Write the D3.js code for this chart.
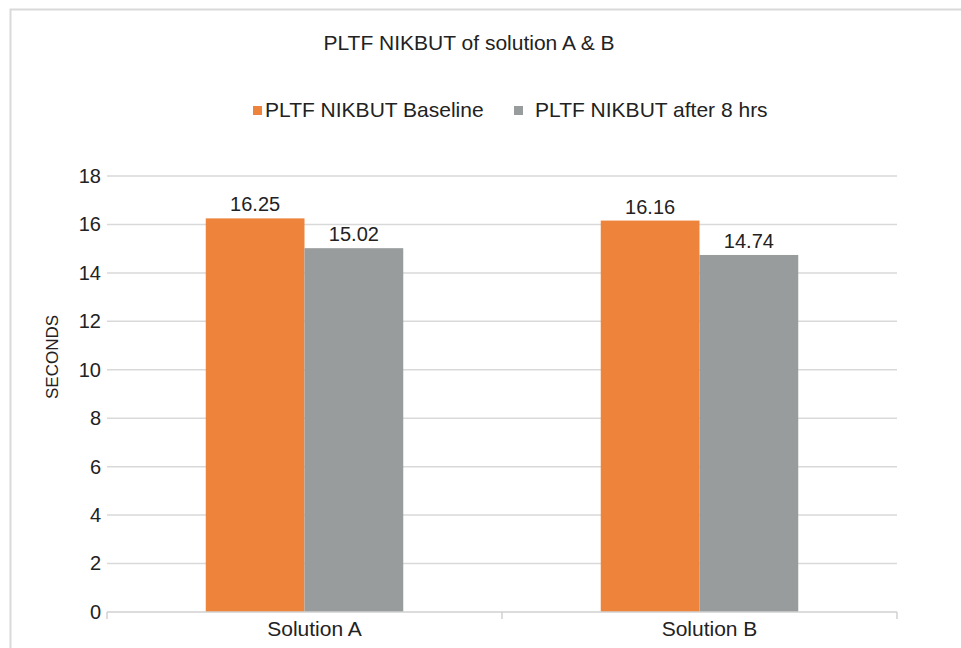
<!DOCTYPE html>
<html>
<head>
<meta charset="utf-8">
<script src="https://cdn.jsdelivr.net/npm/d3@7"></script>
<style>
  body { margin: 0; background: #fff; }
  svg text { font-family: "Liberation Sans", Arial, sans-serif; fill: #222; }
</style>
</head>
<body>
<svg id="chart" width="961" height="648"></svg>
<script>
// data
var categories = ["Solution A", "Solution B"];
var seriesNames = ["PLTF NIKBUT Baseline", "PLTF NIKBUT after 8 hrs"];
var baseline = [16.25, 16.16];
var after8 = [15.02, 14.74];
var yTicks = [0, 2, 4, 6, 8, 10, 12, 14, 16, 18];
var colors = ["#EE833B", "#999C9C"];

var svg = d3.select("#chart");

// outer chart frame
svg.append("rect")
  .attr("x", 10.5).attr("y", 9.5)
  .attr("width", 970).attr("height", 660)
  .attr("fill", "none")
  .attr("stroke", "#d9d9d9")
  .attr("stroke-width", 2);

var plotLeft = 107, plotRight = 897, plotTop = 176, plotBottom = 612;

var y = d3.scaleLinear().domain([0, 18]).range([plotBottom, plotTop]);

var x0 = d3.scaleBand()
  .domain(categories)
  .range([plotLeft, plotRight])
  .paddingInner(0.5)
  .paddingOuter(0.25);

var x1 = d3.scaleBand()
  .domain(seriesNames)
  .range([0, x0.bandwidth()]);

// gridlines
svg.append("g")
  .selectAll("line")
  .data(yTicks.filter(function(d) { return d > 0; }))
  .enter()
  .append("line")
  .attr("x1", plotLeft).attr("x2", plotRight)
  .attr("y1", function(d) { return y(d); })
  .attr("y2", function(d) { return y(d); })
  .attr("stroke", "#d9d9d9")
  .attr("stroke-width", 1.5);

// y axis labels
var yAxis = d3.axisLeft(y).tickValues(yTicks).tickSize(0).tickPadding(6);
var gy = svg.append("g")
  .attr("transform", "translate(" + plotLeft + ",0)")
  .call(yAxis);
gy.select(".domain").remove();
gy.selectAll("text")
  .attr("font-size", "20px")
  .attr("font-family", "Liberation Sans, Arial, sans-serif")
  .attr("fill", "#222");

// bars
var rows = categories.map(function(c, i) {
  return { cat: c, values: [baseline[i], after8[i]] };
});

var groups = svg.append("g")
  .selectAll("g")
  .data(rows)
  .enter()
  .append("g")
  .attr("transform", function(d) { return "translate(" + x0(d.cat) + ",0)"; });

groups.selectAll("rect")
  .data(function(d) { return d.values.map(function(v, j) { return { name: seriesNames[j], v: v, j: j }; }); })
  .enter()
  .append("rect")
  .attr("x", function(d) { return x1(d.name); })
  .attr("width", x1.bandwidth())
  .attr("y", function(d) { return y(d.v); })
  .attr("height", function(d) { return plotBottom - y(d.v); })
  .attr("fill", function(d) { return colors[d.j]; });

groups.selectAll("text.val")
  .data(function(d) { return d.values.map(function(v, j) { return { name: seriesNames[j], v: v }; }); })
  .enter()
  .append("text")
  .attr("class", "val")
  .attr("x", function(d) { return x1(d.name) + x1.bandwidth() / 2; })
  .attr("y", function(d) { return y(d.v) - 7; })
  .attr("text-anchor", "middle")
  .attr("font-size", "20px")
  .text(function(d) { return d.v.toFixed(2); });

// x axis
var xEdge = d3.scalePoint().domain([0, 1, 2]).range([plotLeft, plotRight]);
var gx = svg.append("g");
gx.append("line")
  .attr("x1", plotLeft).attr("x2", plotRight)
  .attr("y1", plotBottom).attr("y2", plotBottom)
  .attr("stroke", "#d0d0d0")
  .attr("stroke-width", 1.5);
gx.selectAll("line.tick")
  .data([0, 1, 2])
  .enter()
  .append("line")
  .attr("class", "tick")
  .attr("x1", function(d) { return xEdge(d); })
  .attr("x2", function(d) { return xEdge(d); })
  .attr("y1", plotBottom).attr("y2", plotBottom + 7)
  .attr("stroke", "#d0d0d0")
  .attr("stroke-width", 1.5);
gx.selectAll("text")
  .data(categories)
  .enter()
  .append("text")
  .attr("x", function(d) { return x0(d) + x0.bandwidth() / 2 + 10; })
  .attr("y", 636)
  .attr("text-anchor", "middle")
  .attr("font-size", "21px")
  .text(function(d) { return d; });

// y axis title
svg.append("text")
  .attr("transform", "translate(58,357) rotate(-90)")
  .attr("text-anchor", "middle")
  .attr("font-size", "17px")
  .text("SECONDS");

// title
svg.append("text")
  .attr("x", 469)
  .attr("y", 50)
  .attr("text-anchor", "middle")
  .attr("font-size", "21px")
  .text("PLTF NIKBUT of solution A & B");

// legend
var legendX = [253, 514];
var legend = svg.append("g")
  .selectAll("g")
  .data(seriesNames)
  .enter()
  .append("g")
  .attr("transform", function(d, i) { return "translate(" + legendX[i] + ",106)"; });
legend.append("rect")
  .attr("width", 9).attr("height", 9)
  .attr("fill", function(d, i) { return colors[i]; });
legend.append("text")
  .attr("x", function(d, i) { return i === 0 ? 12 : 21; })
  .attr("y", 11)
  .attr("font-size", "21px")
  .text(function(d) { return d; });
</script>
</body>
</html>
